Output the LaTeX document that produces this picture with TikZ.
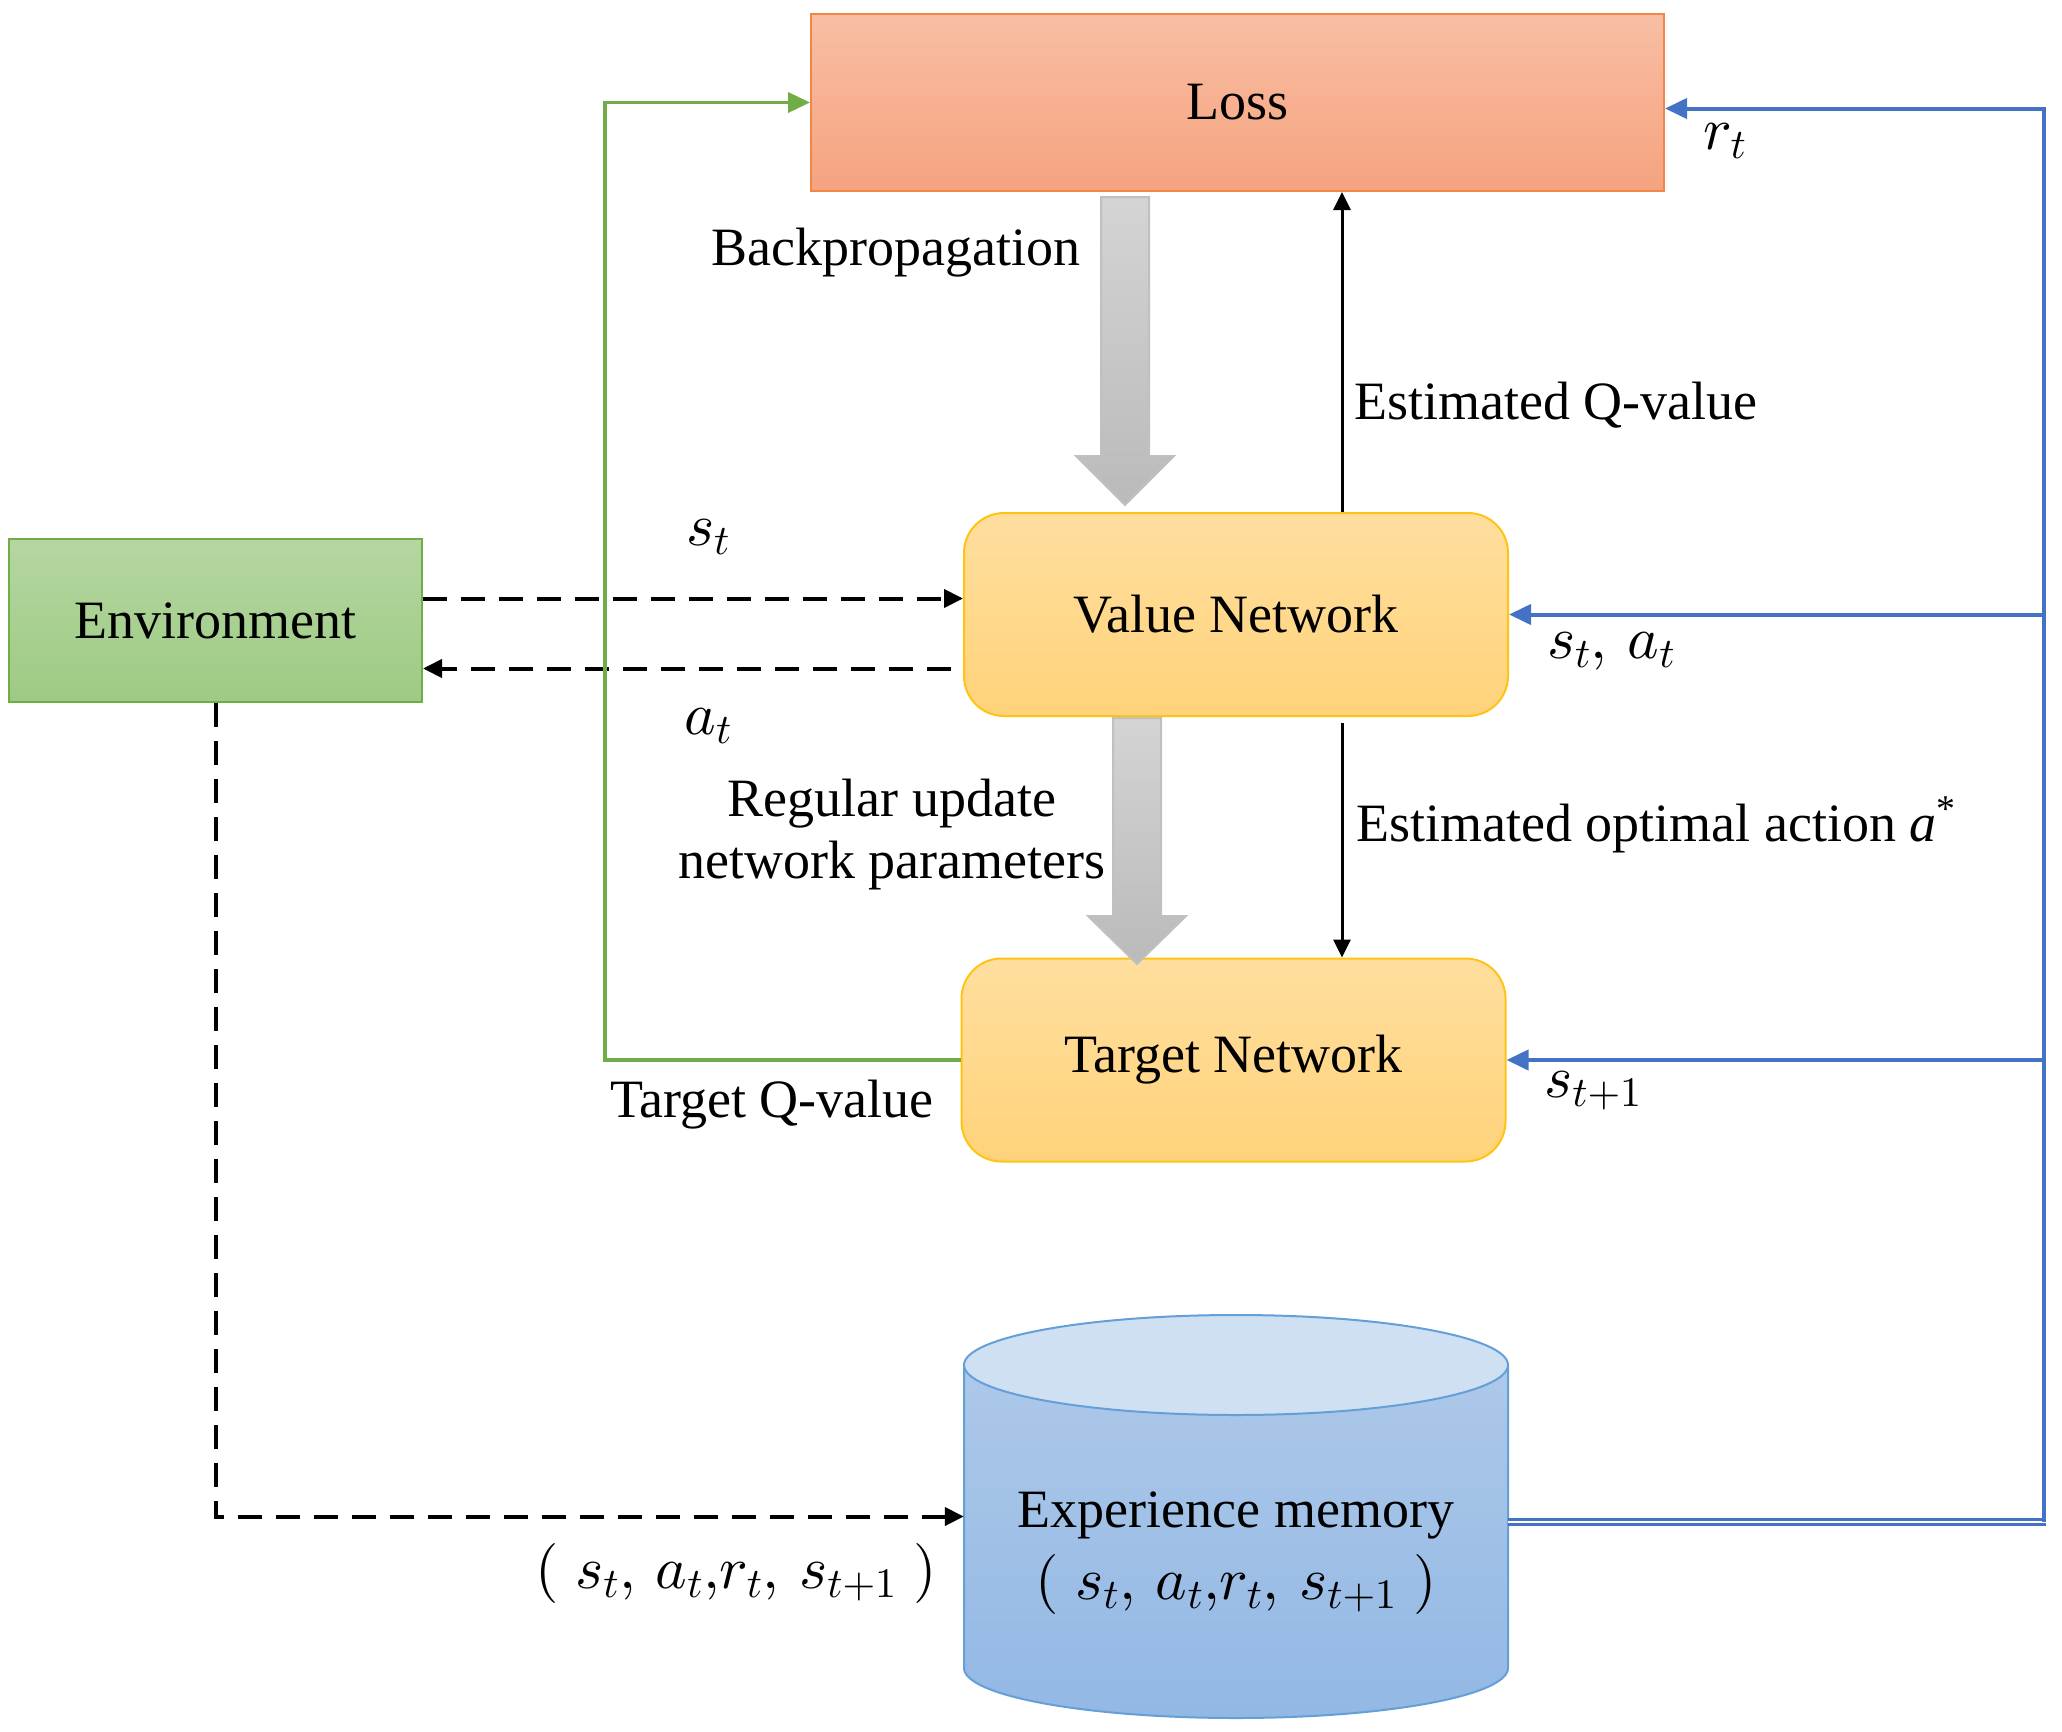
\documentclass[tikz,border=0pt]{standalone}
\DeclareFontShape{OML}{cmm}{m}{it}{<->cmmi10}{}
\DeclareFontShape{OT1}{cmr}{m}{n}{<->cmr10}{}
\DeclareFontShape{OMS}{cmsy}{m}{n}{<->cmsy10}{}
\DeclareFontShape{OMX}{cmex}{m}{n}{<->cmex10}{}
\usepackage{fontspec}
\setmainfont{Liberation Serif}
\usetikzlibrary{arrows.meta,calc}
\definecolor{lossTop}{RGB}{248,190,163}
\definecolor{lossBot}{RGB}{245,163,127}
\definecolor{lossLine}{RGB}{240,135,70}
\definecolor{netTop}{RGB}{255,222,158}
\definecolor{netBot}{RGB}{255,211,122}
\definecolor{netLine}{RGB}{255,195,20}
\definecolor{envTop}{RGB}{181,214,162}
\definecolor{envBot}{RGB}{157,203,130}
\definecolor{envLine}{RGB}{112,173,71}
\definecolor{memTop}{RGB}{207,224,242}
\definecolor{memBodyTop}{RGB}{173,200,233}
\definecolor{memBodyBot}{RGB}{146,184,228}
\definecolor{memLine}{RGB}{100,160,215}
\definecolor{blueLine}{RGB}{68,114,196}
\definecolor{greenLine}{RGB}{112,173,71}
\definecolor{grayTop}{RGB}{212,212,212}
\definecolor{grayBot}{RGB}{186,186,186}
\definecolor{grayLine}{RGB}{192,192,192}
\begin{document}
\begin{tikzpicture}[x=1pt,y=-1pt,
  font=\fontsize{54pt}{62pt}\selectfont,
  box/.style={line width=2pt, inner sep=0pt, align=center},
  lossbox/.style={box, draw=lossLine, top color=lossTop, bottom color=lossBot,
     minimum width=853pt, minimum height=177pt},
  netbox/.style={box, draw=netLine, top color=netTop, bottom color=netBot,
     rounded corners=40pt, minimum width=544pt, minimum height=203pt},
  envbox/.style={box, draw=envLine, top color=envTop, bottom color=envBot,
     minimum width=413pt, minimum height=163pt},
  dasharrow/.style={line width=4pt, dash pattern=on 24pt off 14pt,
     -{Triangle[length=19pt,width=18pt]}},
  blackarrow/.style={line width=3pt, -{Triangle[length=18pt,width=17pt]}},
  bluearrow/.style={blueLine, line width=4pt, -{Triangle[length=22pt,width=20pt]}},
  greenarrow/.style={greenLine, line width=3.5pt, -{Triangle[length=22pt,width=20pt]}},
  blockarrow/.style={draw=grayLine, line width=2pt, top color=grayTop, bottom color=grayBot},
  lbl/.style={inner sep=0pt, align=center},
  mlbl/.style={inner sep=0pt, font=\fontsize{60pt}{66pt}\selectfont}]
\useasboundingbox (0,0) rectangle (2062,1732);

% nodes
\node[lossbox] (loss) at (1237.5,102.5) {Loss};
\node[netbox] (value) at (1236,614.5) {Value Network};
\node[netbox] (target) at (1233.5,1060) {Target Network};
\node[envbox] (env) at (215.5,620.5) {Environment};

% cylinder (experience memory)
\shade[top color=memBodyTop, bottom color=memBodyBot]
  (964,1365) -- (964,1668) arc[start angle=180, end angle=360, x radius=272pt, y radius=50pt]
  -- (1508,1365) -- cycle;
\draw[memLine, line width=2pt] (964,1365) -- (964,1668)
  arc[start angle=180, end angle=360, x radius=272pt, y radius=50pt] -- (1508,1365);
\draw[memLine, line width=2pt, fill=memTop] (1236,1365) ellipse[x radius=272pt, y radius=50pt];
\node[inner sep=0pt, minimum width=544pt, minimum height=405pt] (mem) at (1236,1516.5) {};
\node[lbl] (memtxt) at (1236,1515) {Experience memory};
\node[mlbl] (memtup) at (1236,1584) {$(\;s_t,\,a_t{,}r_t,\,s_{t+1}\;)$};

% gray block arrows
\path[blockarrow] (1101,197) -- (1149,197) -- (1149,456) -- (1174,456) -- (1125,505)
  -- (1076,456) -- (1101,456) -- cycle;
\path[blockarrow] (1113,718) -- (1161,718) -- (1161,916) -- (1186,916) -- (1137,964)
  -- (1088,916) -- (1113,916) -- cycle;

% black solid arrows
\coordinate (qx) at (1342,0);
\draw[blackarrow] (value.north -| qx) -- (loss.south -| qx);
\draw[blackarrow] ($(value.south -| qx)+(0,6)$) -- (target.north -| qx);

% environment dashed arrows
\draw[dasharrow] ($(env.east)+(0,-22)$) -- ($(value.west)+(0,-16)$);
\draw[dasharrow] ($(value.west)+(-12,54)$) -- ($(env.east)+(0,48)$);
\draw[dasharrow] (env.south) |- (mem.west);

% green target Q-value line
\coordinate (gx) at (605,0);
\draw[greenarrow] (target.west) -- (target.west -| gx) |- (loss.west);

% blue lines from memory
\coordinate (bx) at (2044,0);
\coordinate (bR) at ($(mem.east -| bx)+(0,5)$);
\draw[blueLine, line width=3pt, double=white, double distance=2pt]
  ($(mem.east)+(0,5)$) -- ($(bR)+(2,0)$);
\draw[bluearrow] (bR) |- ($(loss.east)+(0,6)$);
\draw[bluearrow] (value.east -| bx) -- (value.east);
\draw[bluearrow] (target.east -| bx) -- (target.east);

% labels
\node[mlbl] (lst) at (708,537) {$s_t$};
\node[mlbl] (lat) at (708,726) {$a_t$};
\node[mlbl] (lrt) at (1725,141) {$r_t$};
\node[mlbl] (lsa) at (1611,651) {$s_t,\,a_t$};
\node[mlbl] (lsn) at (1593,1091) {$s_{t+1}$};
\node[lbl] (lbp) at (896,253) {Backpropagation};
\node[lbl, anchor=west] (leq) at (1354,405) {Estimated Q-value};
\node[lbl] (lru) at (892,835) {Regular update\\network parameters};
\node[lbl, anchor=west] (leo) at (1356,825) {Estimated optimal action \textit{a}\textsuperscript{*}};
\node[lbl] (ltq) at (772,1105) {Target Q-value};
\node[mlbl] (ltup) at (736,1573) {$(\;s_t,\,a_t{,}r_t,\,s_{t+1}\;)$};
\end{tikzpicture}
\end{document}
